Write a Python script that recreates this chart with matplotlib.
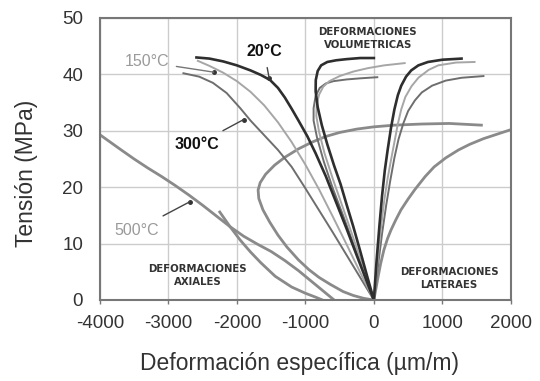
import matplotlib
matplotlib.use("Agg")
from matplotlib import pyplot as plt

plt.rcParams['font.family'] = ['Liberation Sans', 'DejaVu Sans']
plt.rcParams['axes.unicode_minus'] = False

# strain (um/m) vs stress (MPa) readings, one set per temperature
# 20 C
ax20_x = [0, -100, -250, -400, -550, -700, -850, -970, -1100, -1200, -1300, -1400, -1515,
          -1650, -1800, -2000, -2200, -2400, -2590]
ax20_y = [0, 3.2, 7.9, 12.7, 17.3, 21.9, 26.0, 29.0, 31.8, 33.9, 35.9, 37.6, 39.0,
          39.9, 40.7, 41.6, 42.3, 42.8, 43.0]
vol20_x = [0, -100, -200, -300, -400, -485, -580, -680, -760, -820, -850, -848, -820,
           -770, -680, -550, -400, -200, 0]
vol20_y = [0, 4.3, 8.7, 13.0, 17.0, 20.5, 23.8, 27.6, 31.0, 34.2, 37.0, 39.0, 40.6,
           41.6, 42.2, 42.5, 42.7, 42.9, 42.9]
lat20_x = [0, 40, 80, 120, 160, 200, 250, 300, 350, 400, 470, 545, 650, 790, 1000, 1280]
lat20_y = [0, 7, 13, 18.5, 23, 26.5, 30.5, 33.8, 36.3, 38.0, 39.6, 40.7, 41.6, 42.2, 42.6, 42.8]

# 150 C
ax150_x = [0, -200, -400, -600, -800, -1000, -1200, -1400, -1600, -1800, -2000, -2200, -2400, -2570]
ax150_y = [0, 4.9, 9.9, 14.8, 19.6, 24.0, 28.0, 31.5, 34.5, 36.9, 38.8, 40.3, 41.5, 42.4]
vol150_x = [0, -150, -300, -450, -600, -720, -800, -840, -835, -800, -740, -650, -500,
            -300, -90, 150, 450]
vol150_y = [0, 5.5, 11, 16.3, 21.5, 26, 29.8, 32.6, 34.6, 36.4, 37.8, 38.8, 39.7,
            40.5, 41.1, 41.6, 42.0]
lat150_x = [0, 50, 100, 150, 200, 250, 300, 350, 400, 460, 550, 650, 800, 940, 1200, 1470]
lat150_y = [0, 6.5, 12.5, 17.5, 21.5, 24.8, 28.0, 31.2, 33.8, 36.0, 37.9, 39.4, 40.8, 41.6, 42.1, 42.2]

# 300 C
ax300_x = [0, -200, -400, -600, -800, -1000, -1200, -1400, -1600, -1800, -1950, -2150,
           -2350, -2550, -2780]
ax300_y = [0, 4.0, 8.0, 12.0, 15.9, 19.8, 23.6, 26.6, 29.2, 31.8, 34.0, 36.7,
           38.5, 39.6, 40.2]
vol300_x = [0, -150, -300, -450, -600, -730, -830, -880, -880, -850, -790, -700, -590,
            -400, -200, 50]
vol300_y = [0, 5, 10, 15, 19.8, 24.5, 28.8, 31.8, 34, 36.2, 37.6, 38.4, 38.8,
            39.1, 39.3, 39.5]
lat300_x = [0, 60, 120, 180, 240, 300, 360, 430, 500, 600, 700, 850, 1050, 1280, 1600]
lat300_y = [0, 6, 11.8, 16.8, 21.2, 25.2, 28.5, 31.3, 33.5, 35.4, 36.8, 38.0, 38.9, 39.4, 39.7]

# 500 C
ax500_x = [-4000, -3850, -3700, -3500, -3300, -3100, -2900, -2700, -2500, -2300, -2100,
           -1900, -1700, -1500, -1300, -1100, -900, -750, -650, -580]
ax500_y = [29.3, 28.0, 26.7, 25.0, 23.4, 21.9, 20.3, 18.6, 16.8, 14.9, 13.0,
           11.3, 9.9, 8.6, 7.0, 5.2, 3.2, 1.7, 0.7, 0]
ax500b_x = [-2250, -2100, -1950, -1800, -1650, -1440, -1200, -1000, -850, -750]
ax500b_y = [15.6, 13.0, 10.6, 8.5, 6.6, 4.2, 2.3, 1.2, 0.5, 0]
vol500_x = [0, -150, -300, -450, -640, -800, -950, -1100, -1270, -1400, -1520, -1620,
            -1680, -1690, -1660, -1580, -1450, -1300, -1100, -900, -700, -500, -250,
            0, 300, 700, 1100, 1570]
vol500_y = [0, 0.3, 0.8, 1.5, 2.8, 4.0, 5.4, 7.1, 9.4, 11.5, 13.8, 16.0,
            18.0, 19.5, 20.8, 22.3, 23.9, 25.3, 26.8, 28.0, 29.0, 29.7, 30.3,
            30.7, 31.0, 31.2, 31.3, 31.0]
lat500_x = [0, 30, 60, 100, 147, 200, 250, 320, 397, 500, 600, 750, 880, 1050, 1235,
            1400, 1600, 1800, 2000]
lat500_y = [0, 2, 4, 6.5, 8.9, 10.9, 12.4, 14.2, 16, 17.9, 19.6, 21.9, 23.6, 25.2, 26.6,
            27.6, 28.6, 29.4, 30.2]

x_ticks = [-4000, -3000, -2000, -1000, 0, 1000, 2000]
y_ticks = [0, 10, 20, 30, 40, 50]

c20, c150, c300, c500 = '#2e2e2e', '#a6a6a6', '#6e6e6e', '#8a8a8a'

fig = plt.figure(figsize=(5.4, 3.81), dpi=100)
ax = fig.add_axes([0.185, 0.2126, 0.761, 0.7402])

for xs, ys in [(ax500_x, ax500_y), (ax500b_x, ax500b_y), (vol500_x, vol500_y), (lat500_x, lat500_y)]:
    ax.plot(xs, ys, color=c500, lw=2.0, solid_joinstyle='round')
for xs, ys in [(ax300_x, ax300_y), (vol300_x, vol300_y), (lat300_x, lat300_y)]:
    ax.plot(xs, ys, color=c300, lw=1.4, solid_joinstyle='round')
for xs, ys in [(ax150_x, ax150_y), (vol150_x, vol150_y), (lat150_x, lat150_y)]:
    ax.plot(xs, ys, color=c150, lw=1.4, solid_joinstyle='round')
for xs, ys in [(ax20_x, ax20_y), (vol20_x, vol20_y), (lat20_x, lat20_y)]:
    ax.plot(xs, ys, color=c20, lw=1.9, solid_joinstyle='round')

# temperature labels with leader lines
lead = dict(arrowstyle='-', color='#444444', lw=1, shrinkB=0)
ax.annotate('150°C', xy=(-2340, 40.4), xytext=(-3310, 42.2), color='#9a9a9a',
            fontsize=11.5, ha='center', va='center',
            arrowprops=dict(lead, color='#777777', shrinkA=3))
ax.annotate('20°C', xy=(-1530, 39.4), xytext=(-1600, 44.0), color='#111111',
            fontsize=11.5, fontweight='bold', ha='center', va='center',
            arrowprops=dict(lead, shrinkA=4))
ax.annotate('300°C', xy=(-1900, 32.0), xytext=(-2590, 27.5), color='#111111',
            fontsize=11.5, fontweight='bold', ha='center', va='center',
            arrowprops=dict(lead, shrinkA=6))
ax.annotate('500°C', xy=(-2690, 17.4), xytext=(-3470, 12.4), color='#9a9a9a',
            fontsize=11.5, ha='center', va='center',
            arrowprops=dict(lead, shrinkA=6))
for px, py in [(-2340, 40.4), (-1530, 39.4), (-1900, 32.0), (-2690, 17.4)]:
    ax.plot(px, py, 'o', color='#333333', ms=2.5)

txt = dict(fontsize=7.3, fontweight='bold', ha='center', va='center', color='#333333',
           linespacing=1.35, family='DejaVu Sans')
ax.text(-90, 46.3, 'DEFORMACIONES\nVOLUMETRICAS', **txt)
ax.text(-2570, 4.4, 'DEFORMACIONES\nAXIALES', **txt)
ax.text(1100, 3.8, 'DEFORMACIONES\nLATERAES', **txt)

ax.set_xlim(-4000, 2000)
ax.set_ylim(0, 50)
ax.set_xticks(x_ticks)
ax.set_yticks(y_ticks)
ax.grid(True, color='#cccccc', lw=1)
ax.set_axisbelow(True)
for s in ax.spines.values():
    s.set_color('#777777')
    s.set_linewidth(1.5)
ax.tick_params(colors='#777777', labelcolor='#333333', labelsize=13.5, width=1)
ax.tick_params(axis='x', length=3, pad=8)
ax.tick_params(axis='y', length=0, pad=12)
ax.set_xlabel('Deformación específica (µm/m)', fontsize=16.5, color='#333333')
ax.set_ylabel('Tensión (MPa)', fontsize=16.5, color='#333333')
ax.xaxis.set_label_coords(0.485, -0.185)
ax.yaxis.set_label_coords(-0.15, 0.45)

fig.savefig('out.png', dpi=100)
